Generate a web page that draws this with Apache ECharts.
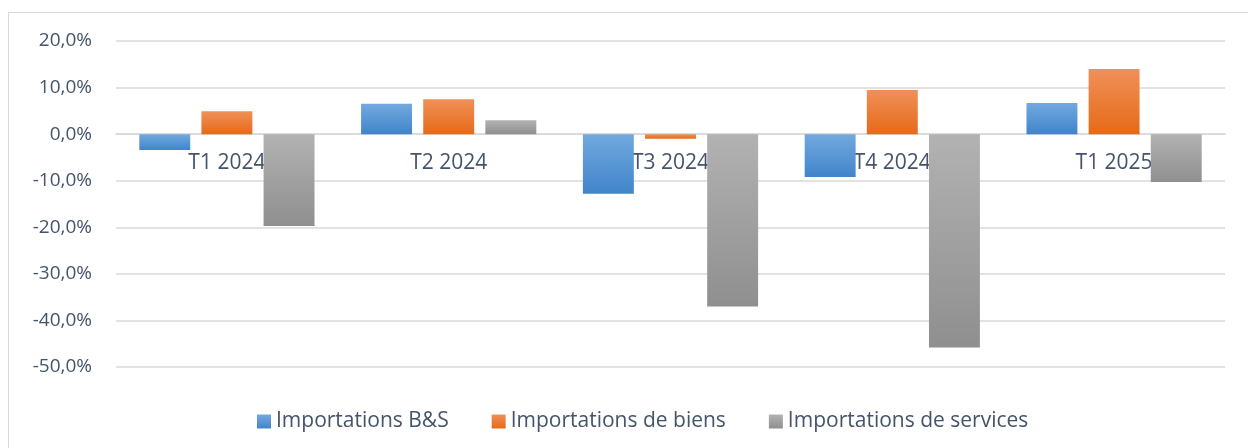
<!DOCTYPE html>
<html>
<head>
<meta charset="utf-8">
<script src="https://cdn.jsdelivr.net/npm/echarts@6/dist/echarts.min.js"></script>
<style>
    html, body { margin: 0; padding: 0; background: #fff; }
    #frame { position: absolute; left: 8px; top: 12px; width: 1260px; height: 460px; border: 1px solid #d9d9d9; }
    #chart { position: absolute; left: 0; top: 0; width: 1248px; height: 448px; }
</style>
</head>
<body>
<div id="frame"></div>
<div id="chart"></div>
<script>
//== data
var categories = ['T1 2024', 'T2 2024', 'T3 2024', 'T4 2024', 'T1 2025'];
var importsTotal = [-3.4, 6.5, -12.8, -9.2, 6.7];
var importsGoods = [4.9, 7.5, -1.0, 9.5, 14.0];
var importsServices = [-19.7, 3.0, -37.0, -45.8, -10.3];
var seriesNames = ['Importations B&S', 'Importations de biens', 'Importations de services'];

var textColor = '#44546A';
var fontFamily = '"Open Sans", "Noto Sans", sans-serif';

var gridTop = 41;
var gridBottom = 81;
var yMin = -50;
var yMax = 20;

var gradient = function (top, bottom) {
    return new echarts.graphic.LinearGradient(0, 0, 0, 1, [
        {offset: 0, color: top},
        {offset: 1, color: bottom}
    ]);
};

var makeBar = function (name, data, top, bottom) {
    return {
        name: name,
        type: 'bar',
        data: data,
        barGap: '22%',
        barCategoryGap: '21%',
        itemStyle: {color: gradient(top, bottom)}
    };
};

// category axis sits on the 0 line, Excel style
var plotHeight = 448 - gridTop - gridBottom;
var zeroOffset = -plotHeight * (0 - yMin) / (yMax - yMin);

var myChart = echarts.init(document.getElementById('chart'));

myChart.setOption({
    animation: false,
    textStyle: {fontFamily: fontFamily},
    grid: {left: 116, right: 23, top: gridTop, bottom: gridBottom},
    legend: {
        top: 406,
        left: 252,
        itemWidth: 14,
        itemHeight: 14,
        itemGap: 43,
        icon: 'rect',
        textStyle: {color: textColor, fontSize: 21, fontFamily: fontFamily},
        data: seriesNames
    },
    xAxis: {
        type: 'category',
        data: categories,
        offset: zeroOffset,
        axisLine: {onZero: false, lineStyle: {color: '#d9d9d9', width: 1.5}},
        axisTick: {show: false},
        axisLabel: {color: textColor, fontSize: 21, margin: 18, fontFamily: fontFamily}
    },
    yAxis: {
        type: 'value',
        min: yMin,
        max: yMax,
        interval: 10,
        axisLine: {show: false},
        axisTick: {show: false},
        splitLine: {lineStyle: {color: '#d9d9d9', width: 1.5}},
        axisLabel: {
            color: textColor,
            fontSize: 19,
            margin: 24,
            fontFamily: fontFamily,
            formatter: function (v) {
                return v.toFixed(1).replace('.', ',') + '%';
            }
        }
    },
    series: [
        makeBar(seriesNames[0], importsTotal, '#72a9df', '#4184ca'),
        makeBar(seriesNames[1], importsGoods, '#f09058', '#e66a18'),
        makeBar(seriesNames[2], importsServices, '#b2b2b2', '#8f8f8f')
    ]
});
</script>
</body>
</html>
